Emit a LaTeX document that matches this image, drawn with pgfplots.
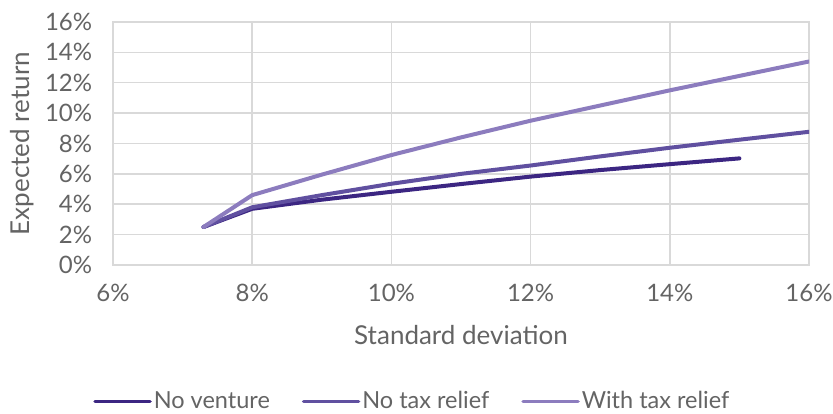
\documentclass[border=0pt]{standalone}
\usepackage{pgfplots}
\pgfplotsset{compat=1.18}
\usepackage{fontspec}
\setmainfont{Lato}

\definecolor{novent}{RGB}{60,38,130}
\definecolor{notax}{RGB}{96,80,160}
\definecolor{withtax}{RGB}{140,124,190}
\definecolor{txt}{RGB}{100,100,100}
\definecolor{gridc}{RGB}{217,217,217}

\pgfplotstableread{
sd   er
7.3  2.5
8    3.7
9    4.3
10   4.82
11   5.33
12   5.82
13   6.25
14   6.64
15   7.02
}\noventure

\pgfplotstableread{
sd   er
7.3  2.5
8    3.8
9    4.6
10   5.35
11   6.0
12   6.55
13   7.15
14   7.72
15   8.25
16   8.77
}\notaxrelief

\pgfplotstableread{
sd   er
7.3  2.5
8    4.6
9    5.95
10   7.24
11   8.4
12   9.5
13   10.5
14   11.5
15   12.45
16   13.4
}\withtaxrelief

\begin{document}
\fontsize{26pt}{30pt}\selectfont
\begin{tikzpicture}
\useasboundingbox (0,0) rectangle (833pt,414pt);
\begin{axis}[
  at={(113pt,149pt)}, anchor=south west,
  scale only axis, width=696pt, height=243pt,
  xmin=6, xmax=16, ymin=0, ymax=16,
  xtick={6,8,...,16}, ytick={0,2,...,16},
  xticklabels={6\%,8\%,10\%,12\%,14\%,16\%},
  yticklabels={0\%,2\%,4\%,6\%,8\%,10\%,12\%,14\%,16\%},
  tick style={draw=none},
  grid=major,
  major grid style={gridc, line width=1.5pt},
  axis line style={gridc, line width=1.5pt},
  ticklabel style={font=\fontsize{24pt}{28pt}\selectfont, text=txt},
  xticklabel style={yshift=-10pt},
  yticklabel style={xshift=-12pt},
  xlabel={Standard deviation},
  ylabel={Expected return},
  label style={font=\fontsize{26pt}{30pt}\selectfont, text=txt},
  xlabel style={at={(0.5,0)}, anchor=center, yshift=-70pt},
  ylabel style={at={(0,0.5)}, anchor=center, yshift=91pt, rotate=0},
  legend style={at={(0.43,-0.562)}, anchor=center, draw=none, fill=none,
    font=\fontsize{23.5pt}{28pt}\selectfont, text=txt,
    legend columns=3, /tikz/every even column/.append style={column sep=30pt},
    inner sep=0pt},
  legend cell align=left,
  legend image code/.code={\draw[#1, line width=3.5pt] (0pt,0pt) -- (55pt,0pt);},
  every axis plot/.append style={line width=4pt, line join=round, line cap=round},
]
\addplot[novent, mark=none] table[x=sd, y=er] {\noventure};
\addlegendentry{No venture}
\addplot[notax, mark=none] table[x=sd, y=er] {\notaxrelief};
\addlegendentry{No tax relief}
\addplot[withtax, mark=none] table[x=sd, y=er] {\withtaxrelief};
\addlegendentry{With tax relief}
\end{axis}
\end{tikzpicture}
\end{document}
